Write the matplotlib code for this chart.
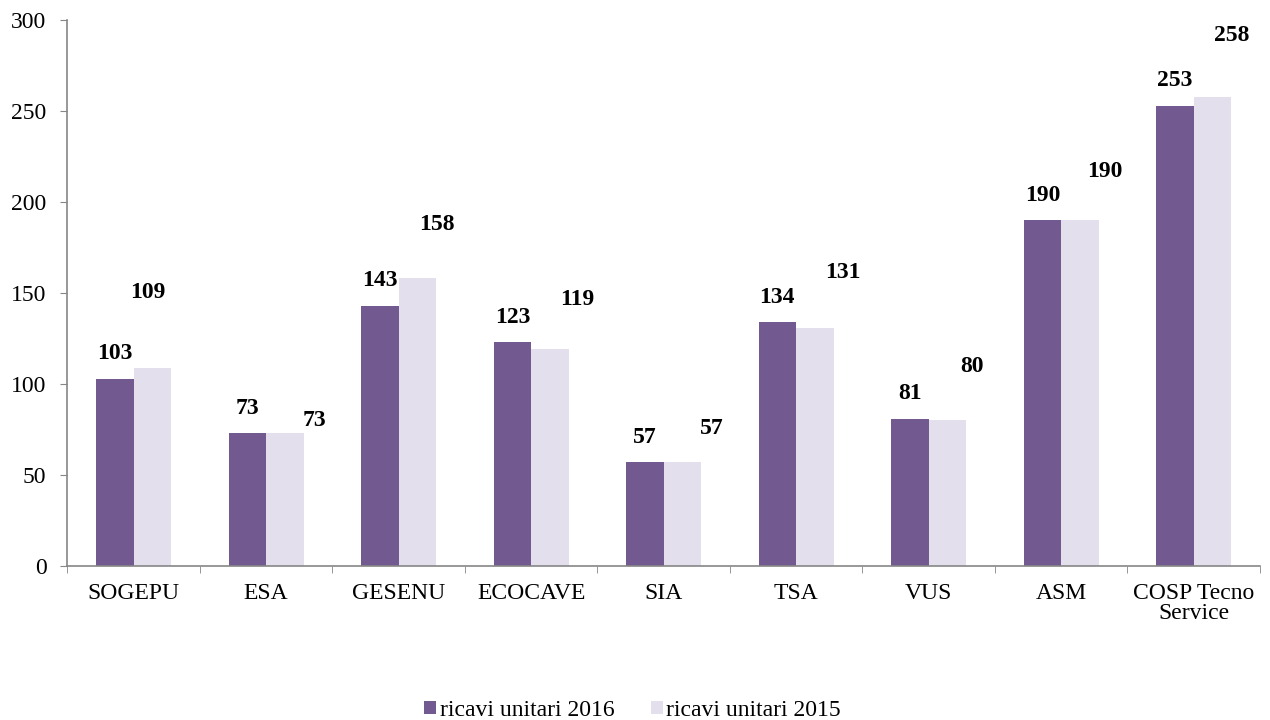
import numpy as np
import matplotlib.pyplot as plt

plt.rcParams['font.family'] = ['Liberation Serif', 'DejaVu Serif']

categories = ['SOGEPU', 'ESA', 'GESENU', 'ECOCAVE', 'SIA', 'TSA', 'VUS', 'ASM', 'COSP Tecno\nService']
ricavi_2016 = [103, 73, 143, 123, 57, 134, 81, 190, 253]
ricavi_2015 = [109, 73, 158, 119, 57, 131, 80, 190, 258]

# label offsets for the 2015 values (points), as in the original
off_2015 = [(-3, 54), (21, 9), (14, 39), (20, 36), (21, 24), (20, 40), (18, 39), (18, 35), (14, 44)]

c16 = '#725990'
c15 = '#E4DFEC'
gray = '#868686'
fs = 17

fig = plt.figure(figsize=(12.7, 7.2), dpi=100)
ax = fig.add_axes([0.053, 0.214, 0.939, 0.758])

x = np.arange(len(categories))
w = 0.283
ax.bar(x - w / 2, ricavi_2016, w, color=c16, label='ricavi unitari 2016')
ax.bar(x + w / 2, ricavi_2015, w, color=c15, label='ricavi unitari 2015')

for i in range(len(categories)):
    ax.annotate(str(ricavi_2016[i]), (x[i] - w / 2, ricavi_2016[i]), xytext=(0, 18),
                textcoords='offset points', ha='center', va='center',
                fontsize=fs, fontweight='bold')
    dx, dy = off_2015[i]
    ax.annotate(str(ricavi_2015[i]), (x[i] + w / 2, ricavi_2015[i]), xytext=(dx, dy),
                textcoords='offset points', ha='center', va='center',
                fontsize=fs, fontweight='bold')

ax.set_xlim(-0.5, len(categories) - 0.5)
ax.set_ylim(0, 300)
ax.set_yticks(range(0, 301, 50))
ax.set_xticks(x)
ax.set_xticklabels(categories, linespacing=0.95)
ax.set_xticks(np.arange(-0.5, len(categories), 1), minor=True)
ax.tick_params(axis='x', which='major', length=0, pad=12, labelsize=fs)
ax.tick_params(axis='x', which='minor', length=5, color=gray)
ax.tick_params(axis='y', length=5, color=gray, labelsize=fs, pad=10)

for s in ['top', 'right']:
    ax.spines[s].set_visible(False)
for s in ['left', 'bottom']:
    ax.spines[s].set_color(gray)
    ax.spines[s].set_linewidth(1.2)

fig.legend(loc='center', bbox_to_anchor=(0.498, 0.013), ncol=2, frameon=False,
           fontsize=fs, handlelength=0.5, handleheight=0.5, handletextpad=0.15,
           columnspacing=1.55)

fig.savefig('out.png', dpi=100)
